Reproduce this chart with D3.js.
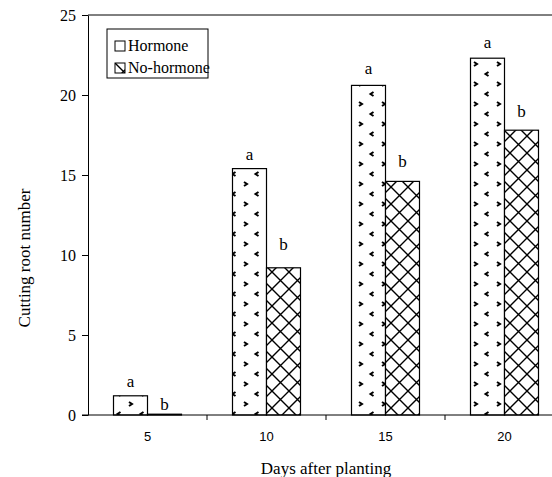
<!DOCTYPE html>
<html><head><meta charset="utf-8">
<script src="https://cdn.jsdelivr.net/npm/d3@7"></script>
<style>body{margin:0;background:#fff}svg{display:block}</style>
</head><body>
<svg id="chart" width="552" height="477"></svg>
<script>
const categories = ["5", "10", "15", "20"];
const seriesNames = ["Hormone", "No-hormone"];
const hormone = [1.2, 15.4, 20.6, 22.3];
const noHormone = [0.05, 9.2, 14.6, 17.8];
const letters = [["a", "b"], ["a", "b"], ["a", "b"], ["a", "b"]];
const letterPos = [[1.75, 0.3], [15.95, 10.3], [21.3, 15.5], [22.95, 18.6]];
const yTicks = [0, 5, 10, 15, 20, 25];

const svg = d3.select("#chart");
const L = 88, R = 564, T = 15, B = 415;
const serif = "'Liberation Serif','Times New Roman',serif";
const sans = "'Liberation Sans',Arial,sans-serif";

const defs = svg.append("defs");
// hormone pattern: sparse chevrons
const p1 = defs.append("pattern").attr("id","pH").attr("patternUnits","userSpaceOnUse")
  .attr("width",23).attr("height",20);
p1.append("rect").attr("width",23).attr("height",20).attr("fill","#fff");
p1.append("path").attr("d","M14,2 L17,4 L14,6").attr("fill","none").attr("stroke","#000").attr("stroke-width",2);
p1.append("path").attr("d","M5.5,12 L2.5,14 L5.5,16").attr("fill","none").attr("stroke","#000").attr("stroke-width",2);
// no-hormone pattern: diagonal crosshatch
const p2 = defs.append("pattern").attr("id","pN").attr("patternUnits","userSpaceOnUse")
  .attr("width",17).attr("height",17);
p2.append("rect").attr("width",17).attr("height",17).attr("fill","#fff");
p2.append("path").attr("d","M0,0 L17,17 M17,0 L0,17").attr("stroke","#000").attr("stroke-width",1.4);
const fills = ["url(#pH)", "url(#pN)"];

const x0 = d3.scaleBand().domain(categories).range([L, R]).paddingInner(0.4286).paddingOuter(0.2143);
const x1 = d3.scaleBand().domain(seriesNames).range([0, x0.bandwidth()]);
const y = d3.scaleLinear().domain([0, 25]).range([B, T]);

const data = categories.map((c, i) => ({c, vals: [hormone[i], noHormone[i]], lab: letters[i], lp: letterPos[i]}));

// bars
const g = svg.append("g");
data.forEach(d => {
  seriesNames.forEach((s, j) => {
    g.append("rect")
      .attr("x", x0(d.c) + x1(s))
      .attr("y", y(d.vals[j]))
      .attr("width", x1.bandwidth())
      .attr("height", y(0) - y(d.vals[j]))
      .attr("fill", fills[j]).attr("stroke", "#000").attr("stroke-width", 1.2);
    svg.append("text")
      .attr("x", x0(d.c) + x1(s) + x1.bandwidth() / 2)
      .attr("y", y(d.lp[j]))
      .attr("text-anchor", "middle")
      .attr("font-family", serif).attr("font-size", 17)
      .text(d.lab[j]);
  });
});

// top frame line
svg.append("line").attr("x1", L).attr("x2", R).attr("y1", y(25)).attr("y2", y(25))
  .attr("stroke", "#000").attr("stroke-width", 1);

// y axis
const ya = svg.append("g").attr("transform", `translate(${L},0)`)
  .call(d3.axisLeft(y).tickValues(yTicks).tickSize(6).tickSizeOuter(0).tickPadding(6));
ya.selectAll("text").attr("font-family", serif).attr("font-size", 16).attr("fill", "#000");
ya.selectAll("line,path").attr("stroke", "#000");

// x axis
const xa = svg.append("g").attr("transform", `translate(0,${B})`)
  .call(d3.axisBottom(x0).tickSize(0).tickSizeOuter(0).tickPadding(17));
xa.selectAll("text").attr("font-family", sans).attr("font-size", 13).attr("fill", "#000");
xa.select("path").attr("stroke", "#000").attr("d", `M${L - 6},0H${R}`);
const step = x0.step();
categories.slice(1).forEach(c => {
  const bx = x0(c) - step * x0.paddingInner() / 2;
  xa.append("line").attr("x1", bx).attr("x2", bx).attr("y1", 0).attr("y2", 5).attr("stroke", "#000");
});

// axis titles
svg.append("text").attr("x", (L + R) / 2).attr("y", 474)
  .attr("text-anchor", "middle").attr("font-family", serif).attr("font-size", 17)
  .text("Days after planting");
svg.append("text").attr("transform", "translate(30,258) rotate(-90)")
  .attr("text-anchor", "middle").attr("font-family", serif).attr("font-size", 17)
  .text("Cutting root number");

// legend
const lg = svg.append("g").attr("transform", "translate(107,29)");
lg.append("rect").attr("width", 101).attr("height", 49).attr("fill", "#fff").attr("stroke", "#000");
seriesNames.forEach((s, j) => {
  const row = lg.append("g").attr("transform", `translate(8,${12 + j * 22})`);
  row.append("rect").attr("width", 10).attr("height", 10).attr("fill", fills[j]).attr("stroke", "#000");
  row.append("text").attr("x", 13).attr("y", 10).attr("font-family", serif).attr("font-size", 16).text(s);
});
</script>
</body></html>
